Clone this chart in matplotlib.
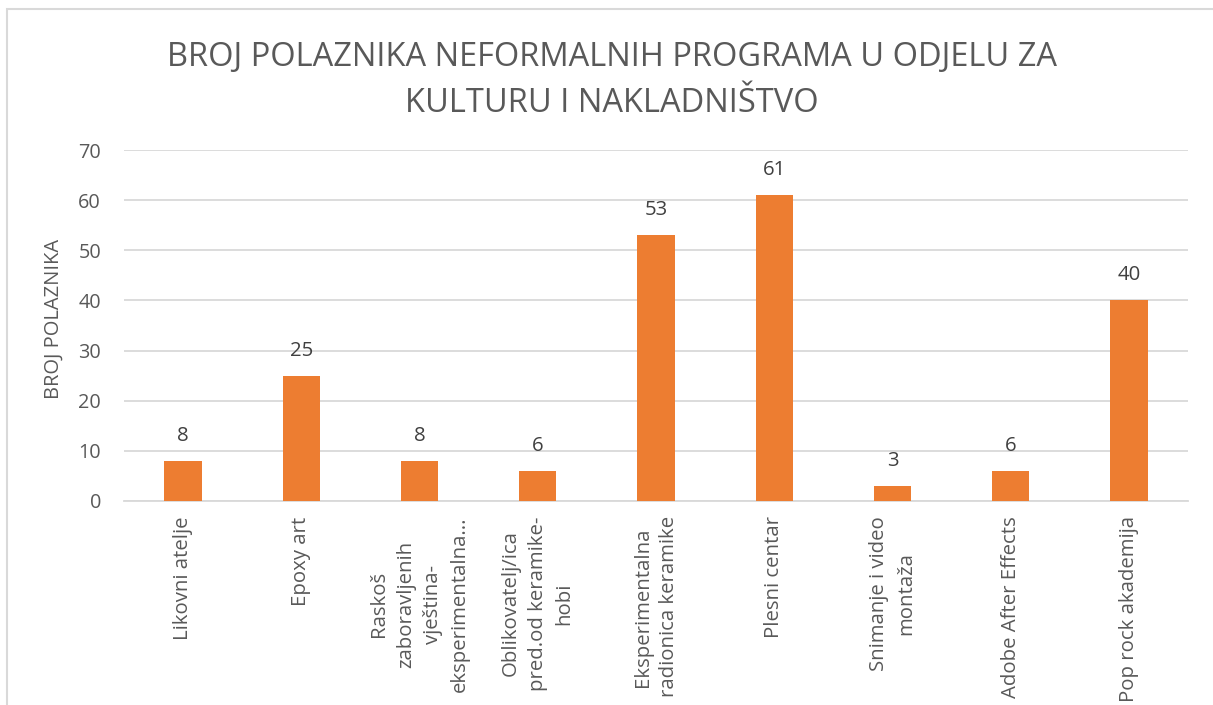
import matplotlib
matplotlib.use("Agg")
import matplotlib.pyplot as plt
from matplotlib.patches import Rectangle

plt.rcParams['font.family'] = ['Open Sans', 'DejaVu Sans']

categories = [
    "Likovni atelje",
    "Epoxy art",
    "Raskoš\nzaboravljenih\nvještina-\neksperimentalna...",
    "Oblikovatelj/ica\npred.od keramike-\nhobi",
    "Eksperimentalna\nradionica keramike",
    "Plesni centar",
    "Snimanje i video\nmontaža",
    "Adobe After Effects",
    "Pop rock akademija",
]
values = [8, 25, 8, 6, 53, 61, 3, 6, 40]
yticks = [0, 10, 20, 30, 40, 50, 60, 70]
title_lines = ["BROJ POLAZNIKA NEFORMALNIH PROGRAMA U ODJELU ZA", "KULTURU I NAKLADNIŠTVO"]
ylabel = "BROJ POLAZNIKA"

W, H = 1213, 705
fig = plt.figure(figsize=(W / 100, H / 100), dpi=100)
ax = fig.add_axes([124 / W, 1 - 501 / H, (1188 - 124) / W, (501 - 150) / H])

text_col = "#595959"
grid_col = "#D9D9D9"
bar_col = "#ED7D31"

x = list(range(len(values)))
ax.bar(x, values, width=0.315, color=bar_col, zorder=3)
ax.set_xlim(-0.5, len(values) - 0.5)
ax.set_ylim(0, 70)
ax.set_yticks(yticks)
ax.set_yticklabels([str(t) for t in yticks], fontsize=14.3, color=text_col)
ax.yaxis.grid(True, color=grid_col, linewidth=1.3, zorder=0)
ax.tick_params(axis='both', length=0)
ax.tick_params(axis='y', pad=16.5)
for s in ['top', 'right', 'left']:
    ax.spines[s].set_visible(False)
ax.spines['bottom'].set_color(grid_col)
ax.spines['bottom'].set_linewidth(1.3)

ax.set_xticks(x)
ax.set_xticklabels(categories, rotation=90, fontsize=14.7, color=text_col,
                   ha='center', va='top', multialignment='center', linespacing=1.45)
ax.tick_params(axis='x', pad=11)

for xi, v in zip(x, values):
    ax.annotate(str(v), (xi, v), xytext=(0, 18), textcoords='offset points',
                ha='center', va='center', fontsize=14.7, color="#404040")

ax.set_ylabel(ylabel, fontsize=14.5, color=text_col)
ax.yaxis.set_label_coords(-0.057, 0.52)

fig.text(612 / W, 1 - 58 / H, title_lines[0], ha='center', va='center', fontsize=23.5, color=text_col)
fig.text(612 / W, 1 - 103 / H, title_lines[1], ha='center', va='center', fontsize=23.5, color=text_col)

frame = Rectangle((7 / W, -0.1), 1.2, 1 - 9 / H + 0.1, transform=fig.transFigure,
                  fill=False, edgecolor=grid_col, linewidth=1.5)
fig.patches.append(frame)

fig.savefig("out.png", dpi=100)
